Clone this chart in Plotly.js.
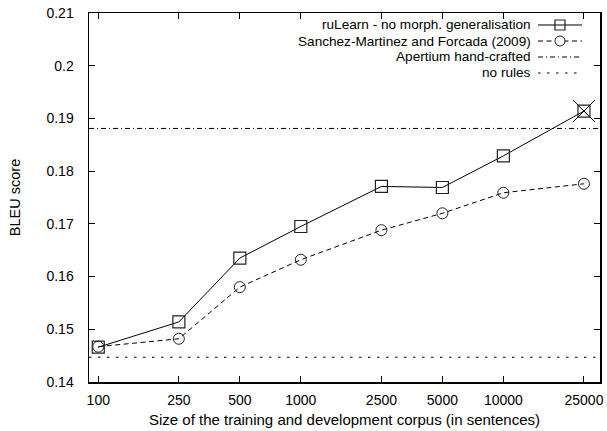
<!DOCTYPE html>
<html>
<head>
<meta charset="utf-8">
<script src="https://cdn.plot.ly/plotly-3.0.1.min.js"></script>
<style>html,body{margin:0;padding:0;background:#fff;}#chart{width:607px;height:431px;}</style>
</head>
<body>
<div id="chart"></div>
<script>
// ---- data ----
const corpusSizes = [100, 250, 500, 1000, 2500, 5000, 10000, 25000];
const ruLearn = [0.1466, 0.1514, 0.1635, 0.1695, 0.1771, 0.1769, 0.1829, 0.1914];
const sanchezMartinez = [0.1467, 0.1482, 0.1580, 0.1632, 0.1688, 0.1720, 0.1759, 0.1776];
const apertiumHandCrafted = 0.1881;
const noRules = 0.1447;
const highlightX = [25000];
const highlightY = [0.1914];
const xTickVals = [100, 250, 500, 1000, 2500, 5000, 10000, 25000];
const xTickText = ['100', '250', '500', '1000', '2500', '5000', '10000', '25000'];
const yTickVals = [0.14, 0.15, 0.16, 0.17, 0.18, 0.19, 0.2, 0.21];
const yTickText = ['0.14', '0.15', '0.16', '0.17', '0.18', '0.19', '0.2', '0.21'];
const seriesNames = ['ruLearn - no morph. generalisation', 'Sanchez-Martinez and Forcada (2009)', 'Apertium hand-crafted', 'no rules'];
const xRange = [90, 30000];

const FONT = 'Liberation Sans, Arial, Helvetica, sans-serif';
const xEnds = [xRange[0], xRange[1]];
const DASH_NORULES = '2.5px,6.5px';
const DASH_APERTIUM = '5px,3px,1px,3px';
const DASH_SANCHEZ = '5px,3.5px';

const traces = [
  {x: xEnds, y: [noRules, noRules], mode: 'lines', name: seriesNames[3],
   line: {color: '#000', width: 1, dash: DASH_NORULES}, hoverinfo: 'skip'},
  {x: xEnds, y: [apertiumHandCrafted, apertiumHandCrafted], mode: 'lines', name: seriesNames[2],
   line: {color: '#000', width: 1, dash: DASH_APERTIUM}, hoverinfo: 'skip'},
  {x: corpusSizes, y: sanchezMartinez, mode: 'lines+markers', name: seriesNames[1],
   line: {color: '#000', width: 1, dash: DASH_SANCHEZ},
   marker: {symbol: 'circle-open', size: 11, color: '#222', line: {width: 1, color: '#222'}}},
  {x: corpusSizes, y: ruLearn, mode: 'lines+markers', name: seriesNames[0],
   line: {color: '#000', width: 1},
   marker: {symbol: 'square-open', size: 12, color: '#222', line: {width: 1.2, color: '#222'}}},
  {x: highlightX, y: highlightY, mode: 'markers', showlegend: false,
   marker: {symbol: 'x-thin-open', size: 22, color: '#000', line: {width: 1, color: '#000'}}}
];

// custom gnuplot-style key (text left, sample right)
const rowsY = [0.9675, 0.9241, 0.8808, 0.8374];
const txtX = 0.867, smpX0 = 0.8787, smpX1 = 0.9648, smpC = 0.9217;
const dashes = ['solid', DASH_SANCHEZ, DASH_APERTIUM, DASH_NORULES];
const annotations = seriesNames.map((n, i) => ({
  text: n, xref: 'paper', yref: 'paper', x: txtX, y: rowsY[i],
  xanchor: 'right', yanchor: 'middle', showarrow: false, borderpad: 0,
  font: {family: FONT, size: 13.6, color: '#000'}
}));
const shapes = [];
seriesNames.forEach((n, i) => {
  shapes.push({type: 'line', xref: 'paper', yref: 'paper', x0: smpX0, x1: smpX1, y0: rowsY[i], y1: rowsY[i],
    line: {color: '#000', width: 1, dash: dashes[i]}});
});
shapes.push({type: 'rect', xref: 'paper', yref: 'paper', xsizemode: 'pixel', ysizemode: 'pixel',
  xanchor: smpC, yanchor: rowsY[0], x0: -5, x1: 5, y0: -5, y1: 5,
  line: {color: '#222', width: 1.2}, fillcolor: 'rgba(0,0,0,0)'});
shapes.push({type: 'circle', xref: 'paper', yref: 'paper', xsizemode: 'pixel', ysizemode: 'pixel',
  xanchor: smpC, yanchor: rowsY[1], x0: -5, x1: 5, y0: -5, y1: 5,
  line: {color: '#222', width: 1}, fillcolor: 'rgba(255,255,255,1)'});

const layout = {
  width: 607, height: 431,
  margin: {l: 89, r: 7, t: 13, b: 49},
  paper_bgcolor: '#fff', plot_bgcolor: '#fff',
  showlegend: false,
  font: {family: FONT, size: 14, color: '#000'},
  xaxis: {
    type: 'log', range: [Math.log10(xRange[0]), Math.log10(xRange[1])],
    tickvals: xTickVals, ticktext: xTickText,
    ticks: 'inside', ticklen: 6, tickwidth: 1, tickcolor: '#000',
    showline: true, linecolor: '#000', linewidth: 1.5, mirror: 'ticks',
    showgrid: false, zeroline: false, ticklabelstandoff: 5,
    tickfont: {family: FONT, size: 14, color: '#000'},
    title: {text: 'Size of the training and development corpus (in sentences)',
      font: {family: FONT, size: 15, color: '#000'}, standoff: 7}
  },
  yaxis: {
    range: [0.14, 0.21],
    tickvals: yTickVals, ticktext: yTickText,
    ticks: 'inside', ticklen: 6, tickwidth: 1, tickcolor: '#000',
    showline: true, linecolor: '#000', linewidth: 1.5, mirror: 'ticks',
    showgrid: false, zeroline: false, ticklabelstandoff: 11,
    tickfont: {family: FONT, size: 14, color: '#000'},
    title: {text: 'BLEU score', font: {family: FONT, size: 14.5, color: '#000'}, standoff: 22}
  },
  annotations: annotations,
  shapes: shapes
};

Plotly.newPlot('chart', traces, layout, {displayModeBar: false, staticPlot: true});
</script>
</body>
</html>
